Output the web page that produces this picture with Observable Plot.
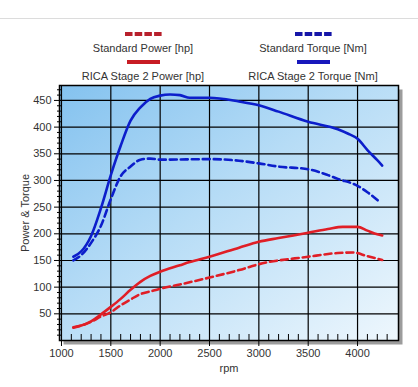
<!DOCTYPE html>
<html><head><meta charset="utf-8">
<script src="https://cdn.jsdelivr.net/npm/d3@7"></script>
<script src="https://cdn.jsdelivr.net/npm/@observablehq/plot@0.6"></script>
<style>
body{margin:0;background:#fff;font-family:"Liberation Sans",Arial,sans-serif;}
#wrap{position:relative;width:418px;height:387px;overflow:hidden;}
#legend{position:relative;height:80px;}
.topline{position:absolute;left:0;right:0;top:18px;height:1px;background:#dcdcdc;}
.sw{position:absolute;}
.lab{position:absolute;width:180px;text-align:center;font-size:11px;color:#333;line-height:12px;}
</style>
</head><body>
<div id="wrap"><div id="legend"><div class="topline"></div></div><div id="chart"></div></div>
<script>
// ---- data ----
const legendLabels = ["Standard Power [hp]", "Standard Torque [Nm]", "RICA Stage 2 Power [hp]", "RICA Stage 2 Torque [Nm]"];

const xTicks = [1000, 1500, 2000, 2500, 3000, 3500, 4000];
const yTicks = [50, 100, 150, 200, 250, 300, 350, 400, 450];

const ricaTorqueRpm = [1120,1200,1300,1400,1500,1600,1700,1800,1900,2000,2100,2200,2300,2500,2800,3000,3200,3500,3800,3900,4000,4100,4200,4250];
const ricaTorque    = [157, 167, 196, 248, 310, 365, 412, 437, 453, 459, 461, 460, 455, 455, 448, 441, 429, 410, 396, 388, 378, 357, 338, 328];

const stdTorqueRpm = [1120,1200,1300,1400,1500,1600,1700,1800,1900,2000,2500,2800,3000,3200,3500,3700,3800,4000,4100,4210];
const stdTorque    = [150, 160, 183, 215, 265, 308, 326, 339, 341, 339, 340, 337, 332, 326, 321, 310, 303, 290, 278, 262];

const ricaPowerRpm = [1120,1200,1300,1400,1500,1600,1700,1800,1900,2000,2200,2300,2500,2800,3000,3200,3500,3700,3850,4000,4100,4200,4250];
const ricaPower    = [25,  28,  36,  49,  63,  78,  95,  110, 121, 129, 141, 147, 157, 174, 185, 192, 202, 209, 213, 213, 206, 199, 197];

const stdPowerRpm = [1120,1200,1300,1400,1500,1600,1700,1800,1900,2000,2200,2500,2800,3000,3500,3800,3950,4100,4250];
const stdPower    = [24,  28,  35,  45,  53,  66,  77,  87,  92,  97,  105, 118, 132, 143, 157, 164, 165, 158, 151];

const RED = "#e01e26", BLUE = "#0c1ecb";

// ---- legend (HTML) ----
const legend = document.getElementById("legend");
const legendItems = [
  {label: legendLabels[0], color: "#b8202c", dashed: true,  cx: 143, sy: 32, ty: 42},
  {label: legendLabels[1], color: "#1616a8", dashed: true,  cx: 313, sy: 32, ty: 42},
  {label: legendLabels[2], color: "#c81c24", dashed: false, cx: 143, sy: 60, ty: 70},
  {label: legendLabels[3], color: "#1818bc", dashed: false, cx: 313, sy: 60, ty: 70}
];
for (const it of legendItems) {
  const sw = document.createElementNS("http://www.w3.org/2000/svg", "svg");
  sw.setAttribute("width", 37); sw.setAttribute("height", 4);
  sw.setAttribute("class", "sw");
  sw.style.left = (it.cx - 18.5) + "px"; sw.style.top = it.sy + "px";
  if (it.dashed) {
    for (let k = 0; k < 4; k++) {
      const r = document.createElementNS("http://www.w3.org/2000/svg", "rect");
      r.setAttribute("x", k * 9.7); r.setAttribute("y", 0);
      r.setAttribute("width", 7.5); r.setAttribute("height", 4);
      r.setAttribute("fill", it.color); sw.appendChild(r);
    }
  } else {
    const r = document.createElementNS("http://www.w3.org/2000/svg", "rect");
    r.setAttribute("x", 2); r.setAttribute("y", 0);
    r.setAttribute("width", 33); r.setAttribute("height", 4);
    r.setAttribute("fill", it.color); sw.appendChild(r);
  }
  legend.appendChild(sw);
  const t = document.createElement("div");
  t.className = "lab"; t.textContent = it.label;
  t.style.left = (it.cx - 90) + "px"; t.style.top = it.ty + "px";
  legend.appendChild(t);
}

// ---- chart ----
const pts = (xs, ys) => xs.map((x, i) => ({rpm: x, v: ys[i]}));
const yMinor = d3.range(10, 480, 10).filter(v => v % 50 !== 0);
const xMinor = d3.range(1100, 4400, 100).filter(v => v % 500 !== 0);

const chart = Plot.plot({
  width: 418, height: 307,
  marginTop: 5, marginBottom: 47, marginLeft: 59, marginRight: 20,
  style: {fontFamily: "'Liberation Sans', Arial, sans-serif", fontSize: "11px", color: "#333", background: "transparent", overflow: "visible"},
  x: {domain: [980, 4415]},
  y: {domain: [0, 478]},
  marks: [
    Plot.frame({fill: "#9c9c9c", dx: 4, dy: 4}),
    Plot.frame({fill: "url(#bg)"}),
    Plot.ruleX(xTicks, {stroke: "#000", strokeWidth: 1.2}),
    Plot.ruleY(yTicks, {stroke: "#000", strokeWidth: 1.2}),
    Plot.axisY(yMinor, {tickSize: 5, dx: 3, text: null, label: null, stroke: "#000"}),
    Plot.axisX(xMinor, {tickSize: 6, dy: -6, text: null, label: null, stroke: "#000"}),
    Plot.axisY(yTicks, {tickSize: 5, tickPadding: 3, tickFormat: d => String(d), stroke: "#000", fill: "#333", label: "Power & Torque", labelAnchor: "center", labelOffset: 38, labelArrow: "none"}),
    Plot.axisX(xTicks, {tickSize: 6, tickPadding: 3, tickFormat: d => String(d), stroke: "#000", fill: "#333", label: "rpm", labelAnchor: "center", labelOffset: 31, labelArrow: "none"}),
    Plot.line(pts(ricaTorqueRpm, ricaTorque), {x: "rpm", y: "v", stroke: BLUE, strokeWidth: 2.6, curve: "monotone-x"}),
    Plot.line(pts(stdTorqueRpm, stdTorque), {x: "rpm", y: "v", stroke: BLUE, strokeWidth: 2.6, strokeDasharray: "7,4", curve: "monotone-x"}),
    Plot.line(pts(ricaPowerRpm, ricaPower), {x: "rpm", y: "v", stroke: RED, strokeWidth: 2.6, curve: "monotone-x"}),
    Plot.line(pts(stdPowerRpm, stdPower), {x: "rpm", y: "v", stroke: RED, strokeWidth: 2.6, strokeDasharray: "7,4", curve: "monotone-x"}),
    Plot.frame({stroke: "#000", strokeWidth: 1.5})
  ]
});
const defs = document.createElementNS("http://www.w3.org/2000/svg", "defs");
defs.innerHTML = `<linearGradient id="bg" x1="0" y1="0" x2="1" y2="1">
  <stop offset="0" stop-color="#84c2ef"/>
  <stop offset="0.45" stop-color="#b6dcf6"/>
  <stop offset="1" stop-color="#eef7fd"/>
</linearGradient>`;
chart.insertBefore(defs, chart.firstChild);
document.getElementById("chart").appendChild(chart);
</script>
</body></html>
